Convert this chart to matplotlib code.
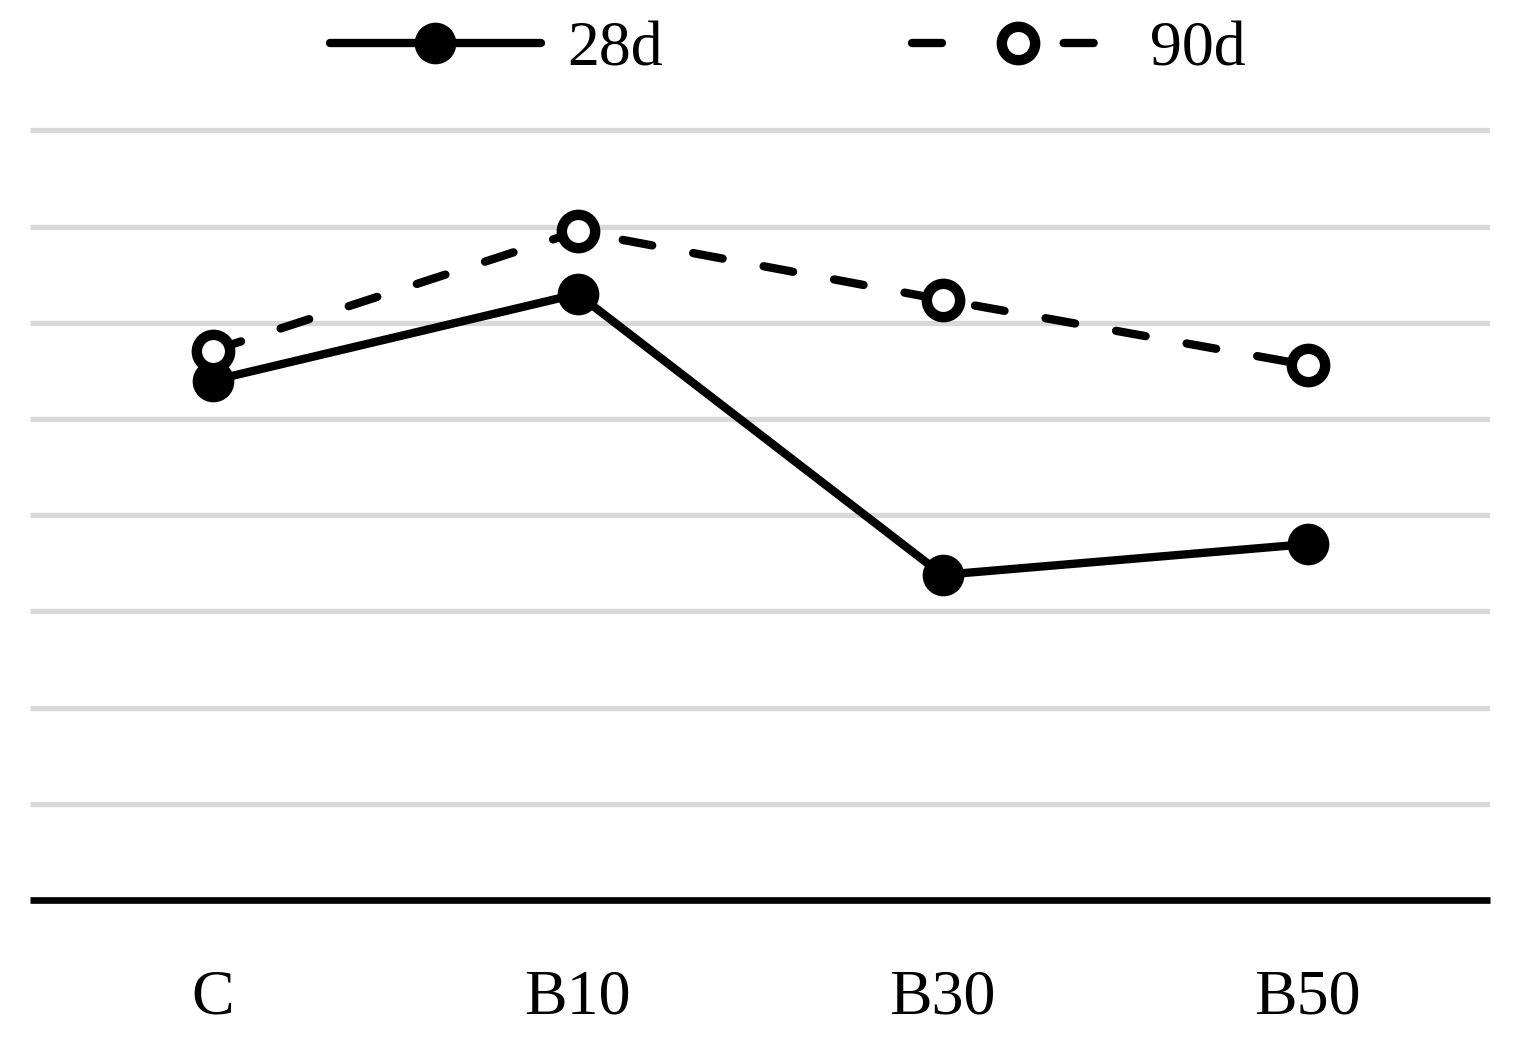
import matplotlib.pyplot as plt

categorias = ['C', 'B10', 'B30', 'B50']
valores_28d = [5.40, 6.30, 3.38, 3.70]
valores_90d = [5.71, 6.95, 6.24, 5.56]
linhas_grade = [1, 2, 3, 4, 5, 6, 7, 8]

plt.rcParams['font.family'] = ['Liberation Serif', 'DejaVu Serif']

fig = plt.figure(figsize=(15.15, 10.43), dpi=100)
ax = fig.add_axes([30 / 1515, 143 / 1043, 1460 / 1515, 784 / 1043])

x = list(range(len(categorias)))

for g in linhas_grade:
    ax.axhline(g, color='#d9d9d9', lw=3.8, zorder=0, solid_capstyle='butt')
ax.axhline(0, color='black', lw=4.8, zorder=1, clip_on=False,
           solid_capstyle='butt')

ax.plot(x, valores_28d, color='black', lw=6, marker='o', markersize=30,
        markerfacecolor='black', markeredgewidth=0, label='28d', zorder=3,
        solid_capstyle='round')
ax.plot(x, valores_90d, color='black', lw=6, ls=(0, (3.6, 5.0)),
        dash_capstyle='round', marker='o', markersize=24,
        markerfacecolor='white', markeredgecolor='black', markeredgewidth=7.5,
        label='90d', zorder=4)

ax.set_xlim(-0.5, 3.5)
ax.set_ylim(0, 8.15)
ax.set_xticks(x)
ax.set_xticklabels(categorias, fontsize=46)
ax.set_yticks([])
ax.tick_params(axis='x', length=0, pad=50)
for s in ax.spines.values():
    s.set_visible(False)

leg = fig.legend(loc='center', bbox_to_anchor=(0.52, 1 - 50 / 1043), ncol=2,
                 frameon=False, fontsize=46, handlelength=3.3, handletextpad=0.42,
                 columnspacing=3.9, borderpad=0)
# tracejado da legenda: traço, marcador, traço
leg.legend_handles[1].set_linestyle((0, (3.6, 14.6)))

fig.savefig('out.png', dpi=100)
